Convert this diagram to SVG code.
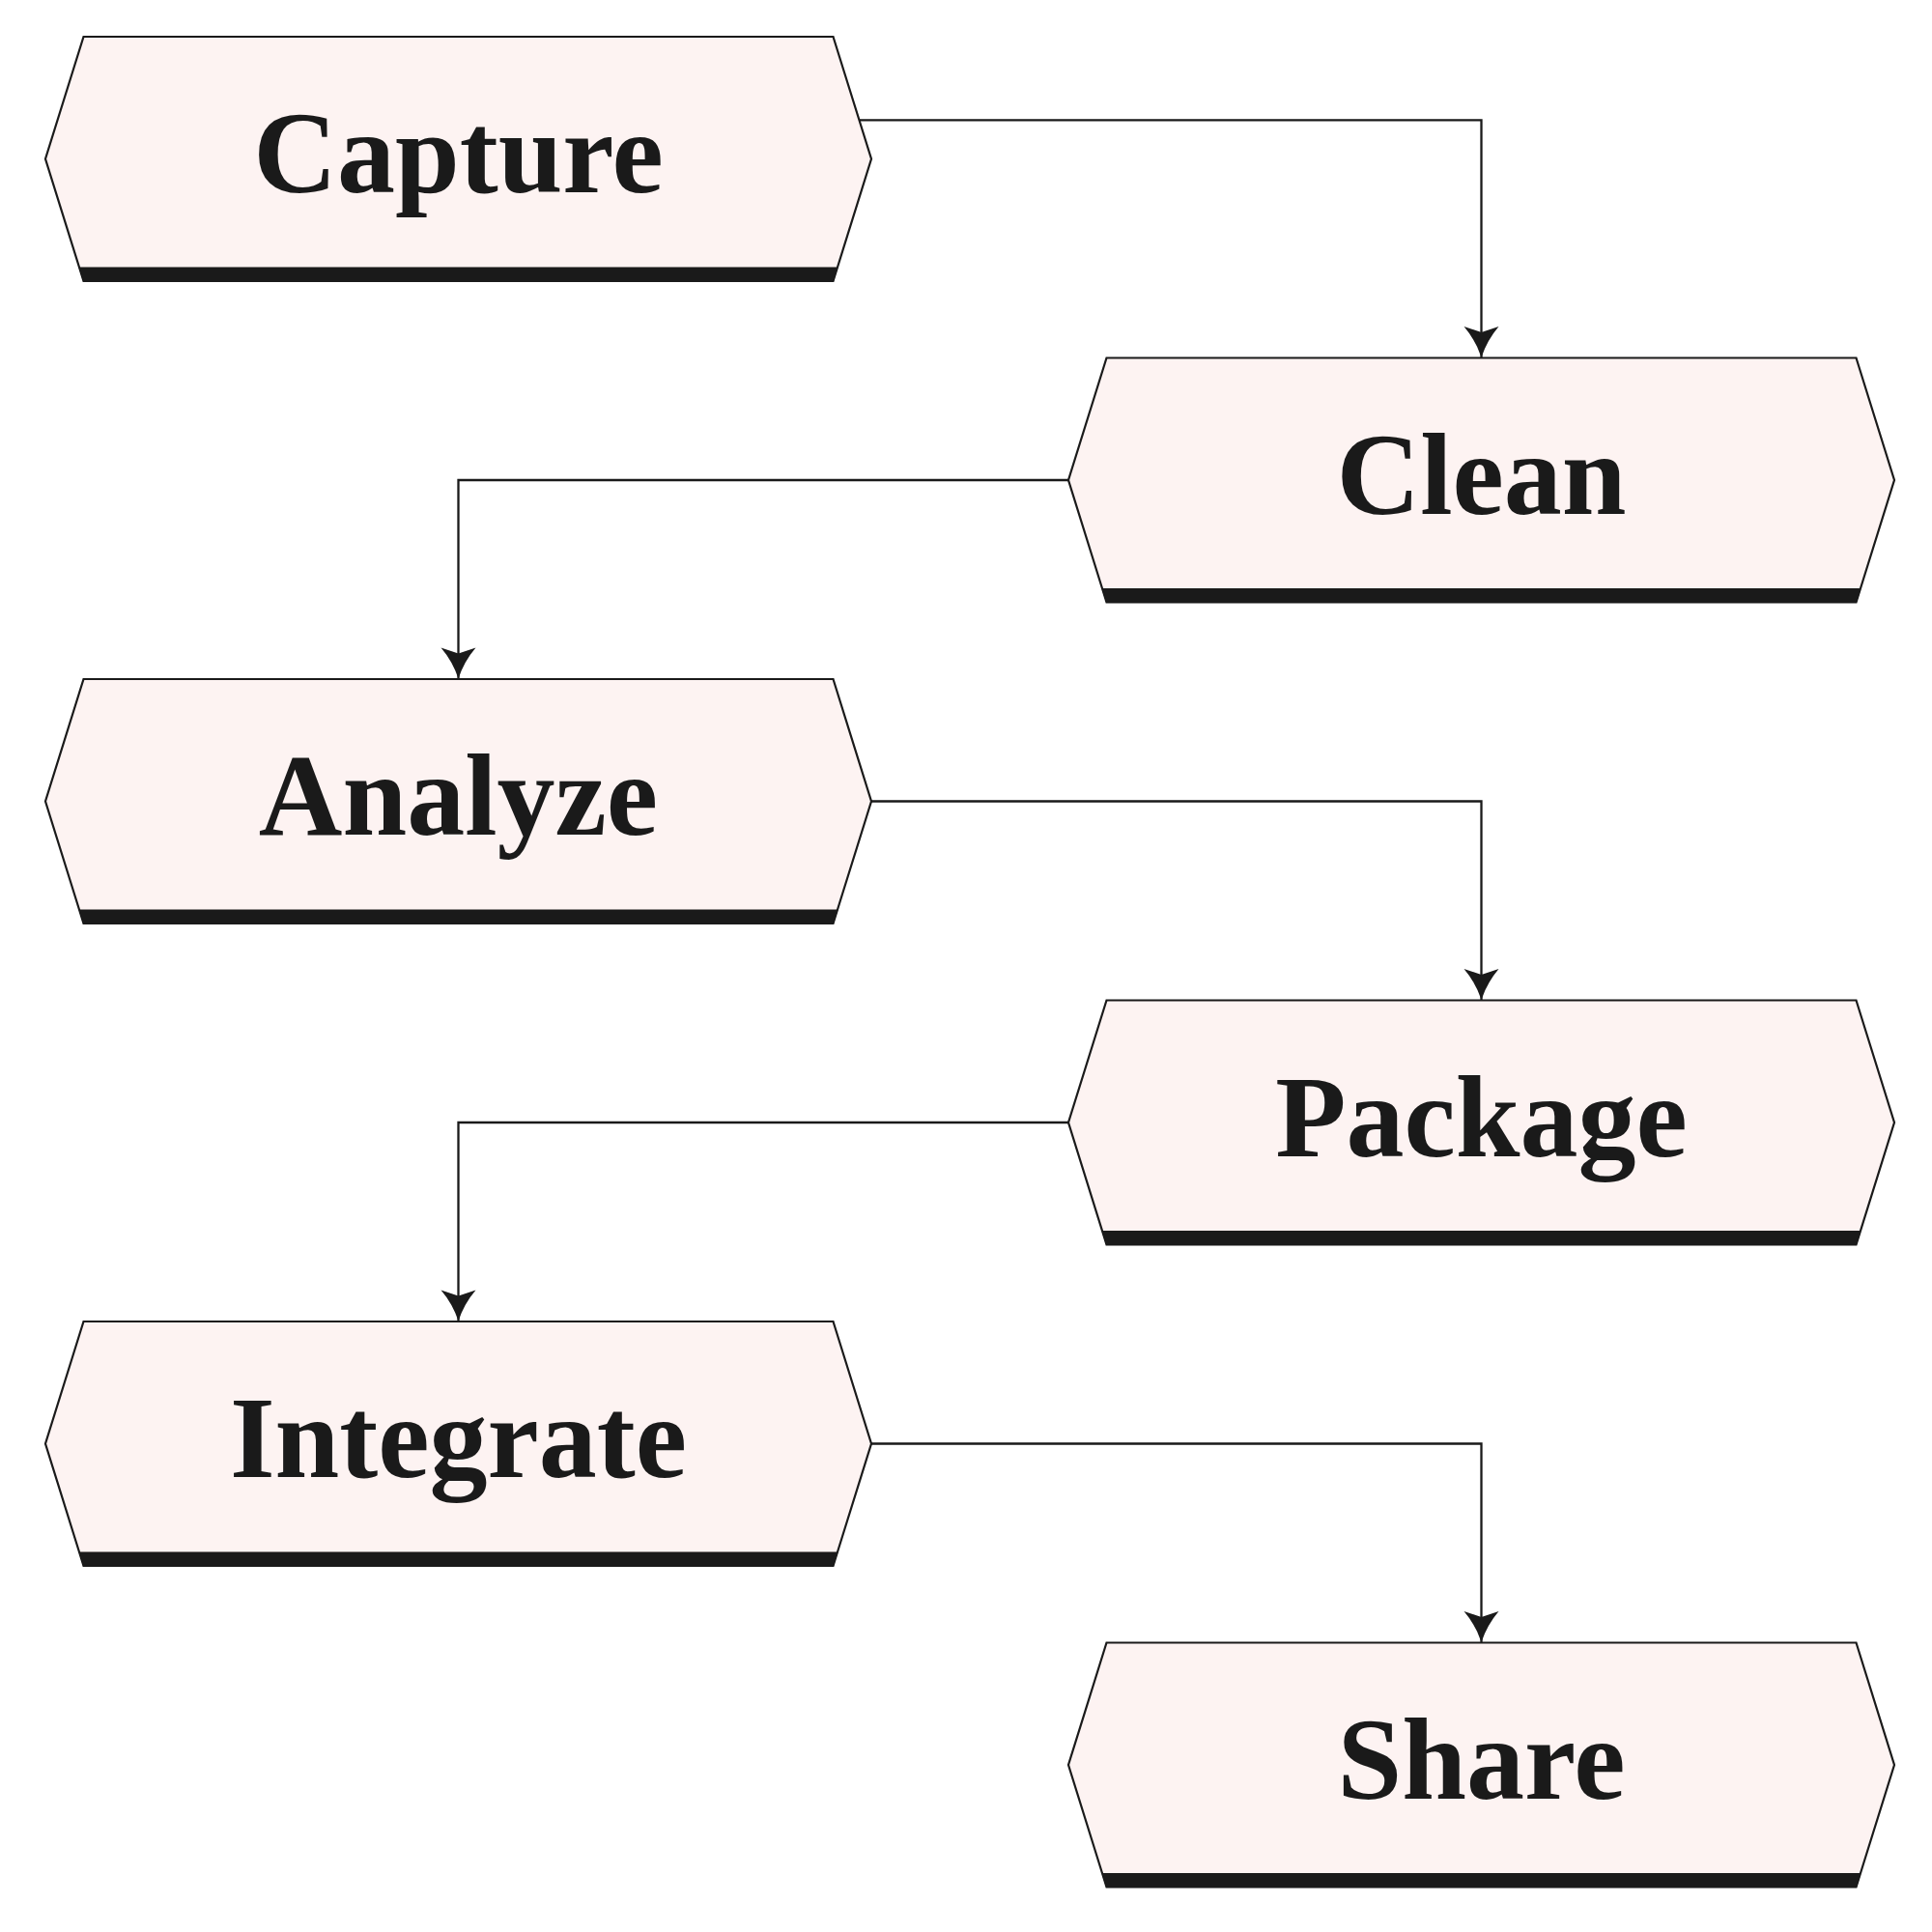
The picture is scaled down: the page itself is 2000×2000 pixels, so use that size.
<svg xmlns="http://www.w3.org/2000/svg" width="2000" height="2000" viewBox="0 0 2000 2000">
  <style>
    .hex { fill: #fdf3f2; stroke: #1a1a1a; stroke-width: 2.2; stroke-linejoin: miter; }
    .band { fill: #1a1a1a; stroke: #1a1a1a; stroke-width: 1; }
    .label { font-family: "Liberation Serif", "DejaVu Serif", serif; font-weight: bold; font-size: 120px; fill: #1a1a1a; text-anchor: middle; }
    .edge { fill: none; stroke: #1a1a1a; stroke-width: 2.3; }
  </style>
  <defs>
    <marker id="arrow" markerUnits="userSpaceOnUse" markerWidth="40" markerHeight="40" refX="0" refY="0" orient="auto" overflow="visible">
      <path d="M0,0 Q-18,-6 -32,-18 L-26,0 L-32,18 Q-18,6 0,0 Z" fill="#1a1a1a"/>
    </marker>
    <polygon id="hexShape" points="39.5,0 815.5,0 855,126.5 815.5,253 39.5,253 0,126.5"/>
  </defs>
  <rect width="2000" height="2000" fill="#ffffff"/>

  <g id="connectors">
    <path class="edge" d="M889.5,124.3 H1533.5 V370" marker-end="url(#arrow)"/>
    <path class="edge" d="M1106,497 H474.5 V702.5" marker-end="url(#arrow)"/>
    <path class="edge" d="M902,829.5 H1533.5 V1035" marker-end="url(#arrow)"/>
    <path class="edge" d="M1106,1162 H474.5 V1367.5" marker-end="url(#arrow)"/>
    <path class="edge" d="M902,1494.5 H1533.5 V1700" marker-end="url(#arrow)"/>
  </g>

  <g id="node-capture" transform="translate(47,38)">
    <use href="#hexShape" class="hex"/>
    <polygon class="band" points="35.1,239 819.9,239 815.5,253 39.5,253"/>
    <text class="label" x="427.5" y="161">Capture</text>
  </g>
  <g id="node-clean" transform="translate(1106,370.5)">
    <use href="#hexShape" class="hex"/>
    <polygon class="band" points="35.1,239 819.9,239 815.5,253 39.5,253"/>
    <text class="label" x="427.5" y="161">Clean</text>
  </g>
  <g id="node-analyze" transform="translate(47,703)">
    <use href="#hexShape" class="hex"/>
    <polygon class="band" points="35.1,239 819.9,239 815.5,253 39.5,253"/>
    <text class="label" x="427.5" y="161">Analyze</text>
  </g>
  <g id="node-package" transform="translate(1106,1035.5)">
    <use href="#hexShape" class="hex"/>
    <polygon class="band" points="35.1,239 819.9,239 815.5,253 39.5,253"/>
    <text class="label" x="427.5" y="161">Package</text>
  </g>
  <g id="node-integrate" transform="translate(47,1368)">
    <use href="#hexShape" class="hex"/>
    <polygon class="band" points="35.1,239 819.9,239 815.5,253 39.5,253"/>
    <text class="label" x="427.5" y="161">Integrate</text>
  </g>
  <g id="node-share" transform="translate(1106,1700.5)">
    <use href="#hexShape" class="hex"/>
    <polygon class="band" points="35.1,239 819.9,239 815.5,253 39.5,253"/>
    <text class="label" x="427.5" y="161">Share</text>
  </g>
</svg>
